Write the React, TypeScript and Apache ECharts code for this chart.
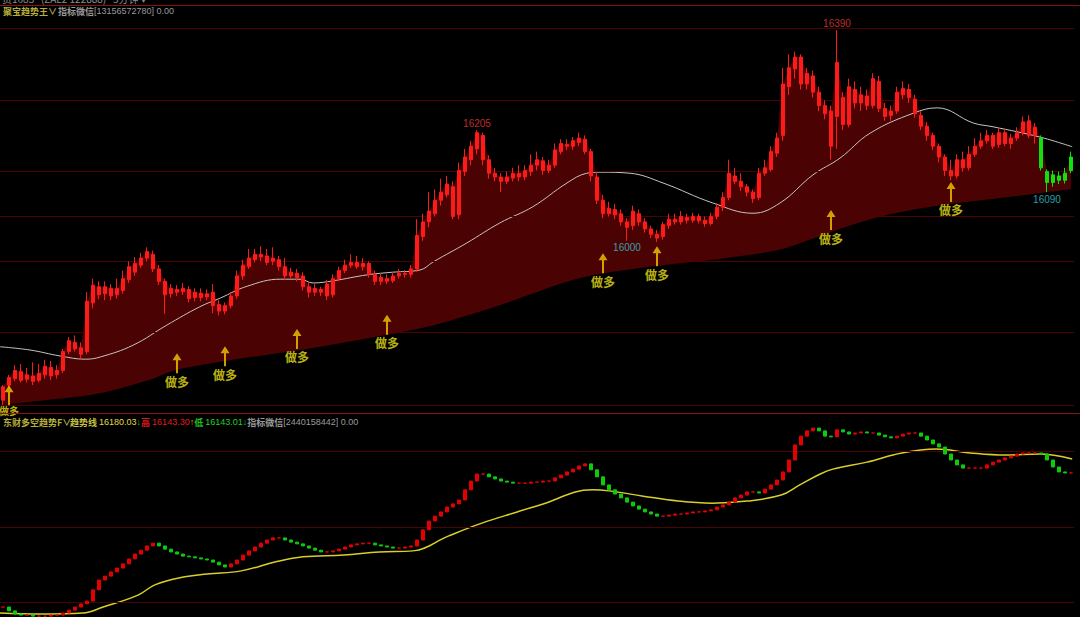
import React, { useEffect, useRef } from "react";
import * as echarts from "echarts";

// ---------- DATA ----------
const opens = [
  15705,15733,15745,15758,15744,15750,15742,15752,15766,15752,
  15760,15795,15812,15802,15795,15885,15915,15902,15912,15900,
  15908,15928,15942,15955,15968,15975,15948,15925,15902,15910,
  15906,15910,15895,15903,15896,15905,15882,15870,15880,15898,
  15935,15952,15965,15975,15972,15962,15965,15952,15935,15940,
  15935,15915,15905,15910,15920,15900,15930,15945,15955,15960,
  15952,15958,15938,15925,15930,15926,15935,15940,15938,15948,
  16008,16035,16050,16075,16085,16100,16048,16128,16150,16170,
  16195,16150,16125,16118,16110,16116,16125,16118,16128,16140,
  16148,16130,16140,16165,16178,16175,16182,16188,16165,16118,
  16075,16050,16058,16050,16035,16028,16050,16035,16022,16012,
  16008,16028,16040,16035,16043,16038,16045,16038,16032,16045,
  16062,16080,16120,16110,16100,16090,16080,16125,16132,16162,
  16195,16285,16318,16340,16290,16305,16275,16250,16240,16230,
  16265,16215,16280,16255,16268,16250,16295,16245,16232,16240,
  16270,16280,16262,16232,16212,16195,16175,16155,16130,16120,
  16150,16135,16160,16175,16185,16195,16178,16200,16180,16190,
  16200,16222,16195,16190,16128,16108,16120,16112,16130,
];
const closes = [
  15730,15747,15760,15742,15752,15740,15755,15768,15750,15760,
  15795,15815,15800,15790,15888,15918,15900,15915,15898,15912,
  15930,15952,15958,15968,15980,15948,15925,15900,15912,15905,
  15912,15893,15905,15895,15902,15880,15870,15880,15898,15935,
  15955,15968,15975,15970,15960,15968,15952,15935,15942,15932,
  15915,15905,15912,15905,15898,15930,15945,15955,15960,15952,
  15958,15938,15925,15932,15925,15935,15940,15938,15948,16010,
  16035,16055,16075,16090,16105,16045,16130,16155,16175,16200,
  16150,16125,16118,16110,16118,16125,16118,16130,16140,16150,
  16130,16140,16168,16180,16175,16185,16190,16165,16120,16075,
  16050,16060,16048,16035,16025,16055,16035,16022,16012,16005,
  16030,16040,16035,16045,16038,16045,16037,16032,16045,16062,
  16080,16125,16110,16100,16090,16078,16125,16135,16165,16190,
  16290,16320,16340,16290,16310,16275,16250,16235,16175,16330,
  16215,16285,16255,16270,16250,16300,16245,16230,16240,16275,
  16282,16265,16235,16212,16195,16175,16155,16130,16120,16150,
  16135,16160,16175,16185,16195,16175,16200,16180,16190,16200,
  16220,16195,16210,16135,16108,16122,16112,16125,16155,
];
const lows = [
  15696,15728,15740,15738,15738,15733,15738,15745,15742,15745,
  15755,15790,15795,15782,15790,15875,15892,15890,15890,15893,
  15902,15922,15935,15950,15962,15942,15918,15865,15895,15898,
  15900,15886,15888,15888,15890,15866,15862,15864,15875,15893,
  15928,15948,15960,15962,15955,15955,15945,15928,15930,15925,
  15908,15895,15898,15898,15890,15895,15925,15940,15950,15948,
  15945,15932,15918,15918,15920,15922,15930,15932,15932,15942,
  16000,16025,16045,16065,16080,16040,16040,16120,16140,16160,
  16140,16115,16110,16090,16105,16110,16110,16112,16120,16130,
  16122,16125,16135,16160,16168,16168,16175,16160,16110,16068,
  16042,16045,16040,16028,16000,16020,16028,16015,16005,15998,
  16002,16022,16030,16030,16032,16033,16032,16026,16028,16040,
  16055,16075,16105,16092,16082,16070,16075,16120,16128,16155,
  16185,16270,16300,16280,16280,16265,16240,16225,16150,16170,
  16205,16210,16245,16240,16242,16245,16238,16222,16222,16235,
  16262,16255,16228,16205,16185,16168,16145,16120,16112,16115,
  16128,16130,16155,16170,16180,16170,16172,16175,16170,16185,
  16195,16190,16180,16130,16090,16100,16105,16106,16125,
];
const highs = [
  15733,15752,15770,15772,15765,15775,15772,15780,15778,15770,
  15800,15822,15825,15812,15905,15930,15925,15925,15920,15930,
  15945,15962,15970,15978,15988,15982,15955,15930,15920,15918,
  15922,15916,15912,15912,15910,15920,15890,15886,15905,15945,
  15965,15985,15985,15990,15985,15988,15972,15968,15950,15948,
  15942,15925,15920,15915,15928,15938,15952,15965,15975,15972,
  15968,15962,15945,15940,15938,15942,15948,15946,15955,16040,
  16050,16090,16095,16115,16120,16110,16145,16170,16185,16205,
  16200,16158,16135,16125,16128,16135,16140,16140,16160,16165,
  16155,16150,16180,16188,16188,16192,16200,16195,16170,16125,
  16085,16072,16068,16058,16042,16065,16058,16042,16028,16020,
  16035,16050,16050,16055,16050,16052,16050,16045,16052,16070,
  16090,16150,16135,16125,16105,16095,16135,16150,16175,16200,
  16320,16345,16350,16345,16320,16315,16285,16260,16250,16390,
  16275,16300,16295,16285,16280,16310,16305,16255,16250,16285,
  16295,16290,16270,16240,16220,16200,16180,16160,16150,16160,
  16165,16175,16190,16200,16205,16200,16210,16208,16198,16210,
  16230,16232,16218,16195,16132,16130,16128,16135,16165,
];
// candles from this index on are drawn green (bearish trend state)
const greenFrom = 173;

// lower band of the filled channel (index position, price)
const bandIdx = [-0.5, 7.8, 16.2, 24.5, 28.8, 37.8, 49.5, 59.5, 70.7, 82.8, 96.2, 107.8, 118.3, 129.2, 136.2, 143, 149.5, 157.8, 166.2, 178.2];
const bandPrice = [15696, 15706, 15718, 15743, 15761, 15779, 15798, 15817, 15841, 15881, 15931, 15952, 15965, 15983, 16009, 16035, 16053, 16068, 16079, 16096];

// grey moving average (index position, price)
const maIdx = [-0.5, 4.5, 9.5, 13.7, 16.2, 21.7, 27.3, 32.8, 36.2, 40.7, 46.2, 49.5, 51.7, 55, 60.7, 65, 69.5, 71.7, 77.3, 82.8, 88.3, 94, 97.3, 99.5, 104.5, 110, 118.3, 125, 129.5, 135, 139.5, 144.5, 151.7, 155.7, 161.7, 165, 172.8, 178.2];
const maPrice = [15804, 15798, 15787, 15781, 15785, 15807, 15844, 15878, 15894, 15916, 15929, 15929, 15922, 15926, 15937, 15942, 15946, 15961, 15996, 16033, 16063, 16107, 16125, 16127, 16125, 16107, 16070, 16051, 16070, 16122, 16153, 16199, 16236, 16246, 16218, 16211, 16192, 16174];

// lower panel: red/green trend steps
const trend = [
  15761,15750,15741,15738,15738,15735,15735,15735,15738,15738,
  15744,15752,15761,15770,15778,15810,15838,15849,15861,15872,
  15884,15898,15912,15923,15935,15943,15935,15926,15918,15912,
  15906,15904,15901,15898,15895,15889,15881,15875,15884,15895,
  15909,15921,15932,15943,15952,15958,15958,15952,15946,15941,
  15935,15929,15923,15918,15918,15921,15926,15932,15938,15941,
  15943,15943,15938,15935,15932,15929,15929,15932,15935,15952,
  15981,16006,16020,16032,16046,16055,16066,16095,16120,16140,
  16140,16132,16126,16120,16117,16114,16114,16114,16117,16117,
  16120,16120,16129,16137,16146,16154,16163,16169,16152,16132,
  16109,16095,16083,16072,16060,16049,16040,16032,16026,16020,
  16020,16023,16026,16026,16029,16032,16032,16035,16038,16046,
  16052,16060,16072,16080,16089,16089,16086,16097,16109,16123,
  16146,16180,16223,16248,16263,16271,16263,16248,16246,16266,
  16260,16254,16257,16260,16257,16257,16251,16246,16243,16248,
  16254,16257,16257,16248,16237,16226,16217,16197,16180,16166,
  16157,16157,16157,16157,16166,16174,16180,16186,16191,16197,
  16200,16200,16200,16197,16180,16160,16146,16143,16143,
];
// lower panel: yellow trend line (index position, value)
const yIdx = [-0.5, 6.2, 13.3, 16.7, 22.5, 25.3, 29.3, 34, 39.7, 45.3, 50, 56.8, 62.7, 68.3, 74.2, 79.8, 85.7, 89.5, 98.2, 101, 106.7, 112.5, 118.2, 124, 129.7, 132.8, 136.2, 138.3, 144, 149.8, 155.5, 161.2, 167, 172.7, 178.2];
const yVal = [15744, 15741, 15744, 15761, 15795, 15824, 15844, 15855, 15864, 15889, 15904, 15909, 15918, 15921, 15963, 16000, 16032, 16052, 16095, 16092, 16077, 16063, 16057, 16063, 16080, 16109, 16140, 16154, 16174, 16200, 16211, 16200, 16194, 16197, 16183];

// "做多" signals: candle index and price of the arrow tip
const signalIdx = [1, 29, 37, 49, 64, 100, 109, 138, 158];
const signalPrice = [15733, 15792, 15805, 15837, 15863, 15977, 15990, 16057, 16109];
// extreme labels
const highMarkIdx = [79, 139];
const lowMarkIdx = [104, 174];

// horizontal guide levels
const topLevels = [16394, 16260, 16129, 16046, 15963, 15830, 15696];
const bottomLevels = [16206, 15989, 15775];

// ---------- STYLE ----------
const CJK = '"Noto Sans CJK SC", sans-serif';
const NUM = '"Liberation Sans", Arial, sans-serif';
const RED = "#ff1a1a";
const GREEN = "#10e010";
const FILL = "#4a0202";
const GRIDLINE = "#4a0202";
const ARROW = "path://M4.5,0 L9,7 L5.5,7 L5.5,20 L3.5,20 L3.5,7 L0,7 Z";

export default function App() {
  const ref = useRef<HTMLDivElement>(null);

  useEffect(() => {
    if (!ref.current) return;
    const chart = echarts.init(ref.current, undefined, { renderer: "svg" });
    const N = opens.length;
    const cats = opens.map((_, i) => String(i));

    const candleData = opens.map((o, i) => {
      const item: any = { value: [o, closes[i], lows[i], highs[i]] };
      if (i >= greenFrom) {
        item.itemStyle = { color: GREEN, color0: GREEN, borderColor: GREEN, borderColor0: GREEN };
      }
      return item;
    });
    const bodyTop = opens.map((o, i) => Math.max(o, closes[i]));
    const stepData = trend.map((v, i) => {
      const p = i === 0 ? v : trend[i - 1];
      return [p, v, Math.min(p, v), Math.max(p, v)];
    });
    const signalData = signalIdx.map((i, k) => {
      const item: any = { value: [i, signalPrice[k]] };
      // the first signal sits on the panel's bottom edge: its label is smaller there
      if (k === 0) item.label = { distance: 0, fontSize: 10 };
      return item;
    });

    const txt = (x: number, y: number, text: string, rich?: any, fill = "#9a9a9a", size = 9, bold = false, font = NUM) => ({
      type: "text",
      x,
      y,
      z: 100,
      style: {
        text,
        fill,
        fontFamily: font,
        fontSize: size,
        fontWeight: bold ? "bold" : "normal",
        verticalAlign: "middle",
        align: "left",
        rich,
      },
    });
    const cjkStyle = (fill: string) => ({ fill, fontFamily: CJK, fontSize: 9, fontWeight: "bold" });
    const numStyle = (fill: string) => ({ fill, fontFamily: NUM, fontSize: 9 });

    const option: any = {
      animation: false,
      backgroundColor: "#000",
      grid: [
        { left: 0, right: 6, top: 5, height: 408 },
        { left: 0, right: 6, top: 415, height: 202 },
      ],
      xAxis: [
        { type: "category", gridIndex: 0, data: cats, show: false },
        { type: "value", gridIndex: 0, min: -0.5, max: N - 0.5, show: false },
        { type: "category", gridIndex: 1, data: cats, show: false },
        { type: "value", gridIndex: 1, min: -0.5, max: N - 0.5, show: false },
      ],
      yAxis: [
        { type: "value", gridIndex: 0, min: 15681.45, max: 16436.25, show: false },
        { type: "value", gridIndex: 1, min: 15732.55, max: 16308.25, show: false },
      ],
      series: [
        {
          name: "fill",
          type: "line",
          xAxisIndex: 0,
          yAxisIndex: 0,
          data: bodyTop,
          symbol: "none",
          lineStyle: { opacity: 0 },
          areaStyle: { color: FILL, opacity: 1 },
          z: 1,
          silent: true,
        },
        {
          name: "band",
          type: "line",
          xAxisIndex: 1,
          yAxisIndex: 0,
          data: bandIdx.map((x, i) => [x, bandPrice[i]]),
          smooth: 0.3,
          symbol: "none",
          lineStyle: { opacity: 0 },
          areaStyle: { color: "#000", opacity: 1 },
          z: 2,
          silent: true,
          markLine: {
            silent: true,
            symbol: "none",
            label: { show: false },
            emphasis: { disabled: true },
            lineStyle: { color: GRIDLINE, width: 1, type: "solid", opacity: 1 },
            data: topLevels.map((v) => ({ yAxis: v })),
          },
        },
        {
          name: "MA",
          type: "line",
          xAxisIndex: 1,
          yAxisIndex: 0,
          data: maIdx.map((x, i) => [x, maPrice[i]]),
          smooth: 0.4,
          symbol: "none",
          lineStyle: { color: "#c9c3c3", width: 1 },
          z: 4,
          silent: true,
        },
        {
          name: "K",
          type: "candlestick",
          xAxisIndex: 0,
          yAxisIndex: 0,
          data: candleData,
          barWidth: 3,
          itemStyle: { color: RED, color0: RED, borderColor: RED, borderColor0: RED, borderWidth: 1 },
          z: 5,
          silent: true,
        },
        {
          name: "signals",
          type: "scatter",
          xAxisIndex: 0,
          yAxisIndex: 0,
          data: signalData,
          symbol: ARROW,
          symbolSize: [9, 20],
          symbolOffset: [0, 10],
          itemStyle: { color: "#f6c800" },
          label: {
            show: true,
            position: "bottom",
            distance: 2,
            formatter: "做多",
            color: "#ece21a",
            fontSize: 12,
            fontWeight: "bold",
            fontFamily: CJK,
          },
          z: 8,
          silent: true,
        },
        {
          name: "highMarks",
          type: "scatter",
          xAxisIndex: 0,
          yAxisIndex: 0,
          data: highMarkIdx.map((i) => [i, highs[i]]),
          symbolSize: 0,
          itemStyle: { color: "transparent" },
          label: {
            show: true,
            position: "top",
            distance: 2,
            formatter: (p: any) => String(p.value[1]),
            color: "#e83a3a",
            fontSize: 10,
            fontFamily: NUM,
          },
          z: 9,
          silent: true,
        },
        {
          name: "lowMarks",
          type: "scatter",
          xAxisIndex: 0,
          yAxisIndex: 0,
          data: lowMarkIdx.map((i) => [i, lows[i]]),
          symbolSize: 0,
          itemStyle: { color: "transparent" },
          label: {
            show: true,
            position: "bottom",
            distance: 2,
            formatter: (p: any) => String(p.value[1]),
            color: "#38c4d4",
            fontSize: 10,
            fontFamily: NUM,
          },
          z: 9,
          silent: true,
        },
        {
          name: "趋势线",
          type: "line",
          xAxisIndex: 3,
          yAxisIndex: 1,
          data: yIdx.map((x, i) => [x, yVal[i]]),
          smooth: 0.4,
          symbol: "none",
          lineStyle: { color: "#d8d028", width: 1.5 },
          z: 3,
          silent: true,
          markLine: {
            silent: true,
            symbol: "none",
            label: { show: false },
            emphasis: { disabled: true },
            lineStyle: { color: GRIDLINE, width: 1, type: "solid", opacity: 1 },
            data: bottomLevels.map((v) => ({ yAxis: v })),
          },
        },
        {
          name: "多空",
          type: "candlestick",
          xAxisIndex: 2,
          yAxisIndex: 1,
          data: stepData,
          barWidth: 4,
          itemStyle: {
            color: "#e40000",
            color0: "#0ccc0c",
            borderColor: "#e40000",
            borderColor0: "#0ccc0c",
            borderWidth: 1,
          },
          z: 5,
          silent: true,
        },
      ],
      graphic: [
        { type: "line", z: 90, shape: { x1: 0, y1: 5.5, x2: 1080, y2: 5.5 }, style: { stroke: "#861414", lineWidth: 1 } },
        { type: "line", z: 90, shape: { x1: 0, y1: 413.5, x2: 1080, y2: 413.5 }, style: { stroke: "#8c1616", lineWidth: 1 } },
        txt(2, -2, "货1683   (ZAL2 122888)   5分钟 ▾", undefined, "#8c8c8c", 10, false, CJK),
        txt(3, 11, "聚宝趋势王∨", undefined, "#b6ae3a", 9, true, CJK),
        txt(58, 11, "{c|指标微信}{n|[13156572780] 0.00}", { c: cjkStyle("#9a9a9a"), n: numStyle("#9a9a9a") }),
        txt(3, 422, "东财多空趋势F∨", undefined, "#b6ae3a", 9, true, CJK),
        txt(
          70,
          422,
          "{a|趋势线 }{b|16180.03}{g|↓}{r|高 }{rn|16143.30}{u|↑}{gc|低 }{gn|16143.01}{g|↓}{c|指标微信}{n|[2440158442] 0.00}",
          {
            a: cjkStyle("#c8c040"),
            b: numStyle("#e0dc3c"),
            g: numStyle("#20c020"),
            r: cjkStyle("#d41c1c"),
            rn: numStyle("#e41c1c"),
            u: numStyle("#d8a020"),
            gc: cjkStyle("#20c020"),
            gn: numStyle("#22d022"),
            c: cjkStyle("#9a9a9a"),
            n: numStyle("#9a9a9a"),
          }
        ),
      ],
    };

    chart.setOption(option);
    return () => chart.dispose();
  }, []);

  return (
    <div
      ref={ref}
      style={{ position: "fixed", left: 0, top: 0, width: 1080, height: 617, background: "#000" }}
    />
  );
}
